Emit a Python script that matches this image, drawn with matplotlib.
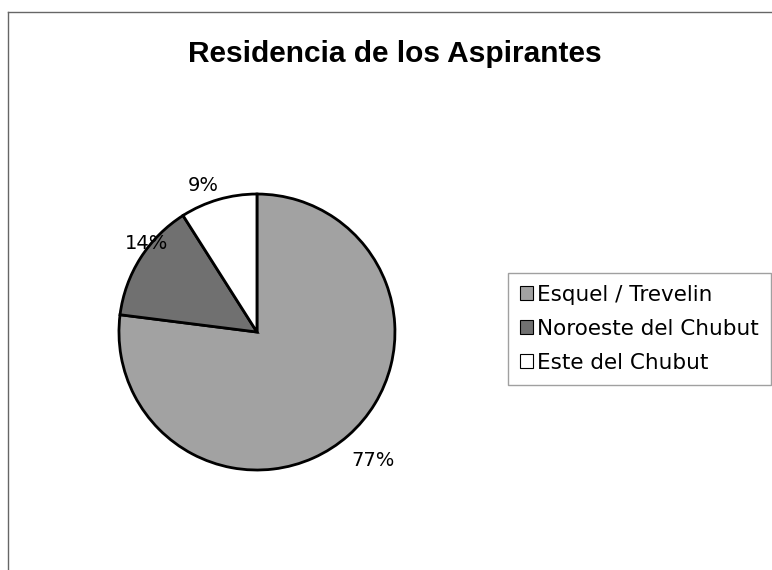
import matplotlib
matplotlib.use("Agg")
import matplotlib.pyplot as plt
from matplotlib.lines import Line2D

plt.rcParams['font.family'] = ['Liberation Sans', 'DejaVu Sans']

titulo = 'Residencia de los Aspirantes'
regiones = ['Esquel / Trevelin', 'Noroeste del Chubut', 'Este del Chubut']
porcentajes = [77, 14, 9]
colores = ['#a2a2a2', '#707070', '#ffffff']
# posicion de cada etiqueta de porcentaje (en radios del pastel)
pos_etiquetas = [(0.84, -0.93), (-0.80, 0.645), (-0.39, 1.06)]

fig = plt.figure(figsize=(7.72, 5.70), dpi=100)

# borde del grafico (solo izquierda y arriba, como en la imagen)
fig.add_artist(Line2D([0.0104, 0.0104], [0.0, 0.979], color='#666666', lw=1))
fig.add_artist(Line2D([0.0104, 1.0], [0.979, 0.979], color='#666666', lw=1))

fig.text(0.512, 0.891, titulo, ha='center', va='baseline', fontsize=21.5,
         fontweight='bold')

ax = fig.add_axes([0.1541, 0.1754, 0.3575, 0.4842])
wedges, textos, pcts = ax.pie(porcentajes, colors=colores, startangle=90,
                              counterclock=False, radius=1,
                              autopct='%d%%', pctdistance=1.15,
                              wedgeprops=dict(edgecolor='black', linewidth=2),
                              textprops=dict(fontsize=14, family='DejaVu Sans'))
for t, p in zip(pcts, pos_etiquetas):
    t.set_position(p)
ax.set_xlim(-1, 1)
ax.set_ylim(-1, 1)
ax.set_aspect('equal')

leg = fig.legend(wedges, regiones, loc='upper left',
                 bbox_to_anchor=(0.658, 0.521),
                 prop=dict(size=15.5, family='DejaVu Sans'),
                 frameon=True, fancybox=False, handlelength=0.6,
                 handleheight=0.6, handletextpad=0.2, borderpad=0.55,
                 labelspacing=0.65, borderaxespad=0)
leg.get_frame().set_edgecolor('#888888')
leg.get_frame().set_linewidth(1)
for h in leg.legend_handles:
    h.set_linewidth(0.8)

fig.savefig('out.png', dpi=100)
